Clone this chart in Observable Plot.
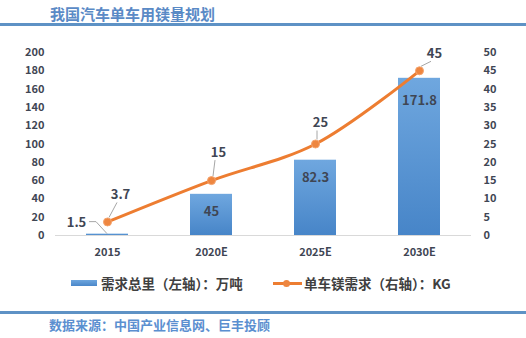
<!DOCTYPE html>
<html>
<head>
<meta charset="utf-8">
<script src="https://cdn.jsdelivr.net/npm/d3@7"></script>
<script src="https://cdn.jsdelivr.net/npm/@observablehq/plot@0.6"></script>
<style>
  html, body { margin: 0; padding: 0; background: #fff; }
  #wrap { position: relative; width: 526px; height: 338px; overflow: hidden; background: #fff;
          font-family: "Noto Sans CJK SC", "Noto Sans", sans-serif; }
  .abs { position: absolute; white-space: nowrap; }
  #title { left: 50px; top: 4px; font-size: 15px; font-weight: bold; color: #5a8ac6; line-height: 20px; }
  .rule { left: 0; width: 526px; height: 3px; background: #5e92c5; }
  #chart { left: 0; top: 30px; }
  .legtext { font-size: 13.5px; font-weight: bold; color: #404040; line-height: 18px; }
  #source { left: 49px; top: 316px; font-size: 13px; font-weight: bold; color: #5b8fd0; line-height: 18px; }
</style>
</head>
<body>
<div id="wrap">
  <div id="title" class="abs">我国汽车单车用镁量规划</div>
  <div class="abs rule" style="top:23px"></div>
  <div id="chart" class="abs"></div>
  <div class="abs" style="left:71px;top:280px;width:26px;height:6px;background:linear-gradient(#6ea6de,#4a87c9);"></div>
  <div class="abs legtext" style="left:101px;top:274px;">需求总里（左轴）：万吨</div>
  <div class="abs" style="left:273px;top:282px;width:29px;height:3px;background:#ed7d31;"></div>
  <div class="abs" style="left:283px;top:280px;width:7px;height:7px;border-radius:50%;background:#ee8640;"></div>
  <div class="abs legtext" style="left:304px;top:274px;">单车镁需求（右轴）：KG</div>
  <div class="abs rule" style="top:311px"></div>
  <div id="source" class="abs">数据来源：中国产业信息网、巨丰投顾</div>
</div>
<script>
// ---- data ----
const categories = ["2015", "2020E", "2025E", "2030E"];
const demandTotal = [1.5, 45, 82.3, 171.8];      // 需求总里（左轴）：万吨
const perCarDemand = [3.7, 15, 25, 45];         // 单车镁需求（右轴）：KG
const leftTicks = [0, 20, 40, 60, 80, 100, 120, 140, 160, 180, 200];
const rightTicks = [0, 5, 10, 15, 20, 25, 30, 35, 40, 45, 50];

// ---- styling config (label offsets in px) ----
const barLabelOffset = [{dx: -31, dy: -11}, {dx: 0, dy: 18}, {dx: 0, dy: 18}, {dx: 0, dy: 23}];
const lineLabelOffset = [{dx: 13, dy: -27}, {dx: 7, dy: -28}, {dx: 5, dy: -21}, {dx: 15, dy: -17}];

const ratio = 200 / 50; // right axis -> left axis
const rows = categories.map((c, i) => ({cat: c, total: demandTotal[i], per: perCarDemand[i], perScaled: perCarDemand[i] * ratio, i}));

const textColor = "#3f4654";
const font = "\"Noto Sans CJK SC\", sans-serif";

const barLabels = rows.map((d, i) => Plot.text([d], {
  x: "cat", y: "total", text: d => String(d.total),
  dx: barLabelOffset[i].dx, dy: barLabelOffset[i].dy,
  fill: textColor, fontSize: 13, fontWeight: "bold"
}));
const lineLabels = rows.map((d, i) => Plot.text([d], {
  x: "cat", y: "perScaled", text: d => String(d.per),
  dx: lineLabelOffset[i].dx, dy: lineLabelOffset[i].dy,
  fill: textColor, fontSize: 13, fontWeight: "bold"
}));

const chart = Plot.plot({
  width: 526,
  height: 240,
  marginTop: 22,
  marginBottom: 35,
  marginLeft: 55,
  marginRight: 55,
  style: {fontFamily: font, background: "transparent", overflow: "visible"},
  x: {domain: categories, paddingInner: 0.6, paddingOuter: 0.3, label: null},
  y: {domain: [0, 200], label: null},
  marks: [
    Plot.axisY(leftTicks, {anchor: "left", tickSize: 0, tickPadding: 11, fontSize: 11, fontWeight: "bold", fill: textColor, label: null}),
    Plot.axisY(rightTicks.map(v => v * ratio), {anchor: "right", tickSize: 0, tickPadding: 12, tickFormat: v => String(v / ratio), fontSize: 11, fontWeight: "bold", fill: textColor, label: null}),
    Plot.axisX({tickSize: 0, tickPadding: 13, fontSize: 11, fontWeight: "bold", fill: textColor, label: null}),
    Plot.barY(rows, {x: "cat", y: "total", fill: "url(#barGrad)"}),
    Plot.ruleY([0], {stroke: "#d9d9d9", strokeWidth: 1}),
    Plot.line(rows, {x: "cat", y: "perScaled", stroke: "#ed7d31", strokeWidth: 3, curve: "catmull-rom"}),
    Plot.dot(rows, {x: "cat", y: "perScaled", r: 4, fill: "#ee8640", stroke: "#f4a36d", strokeWidth: 1}),
    ...barLabels,
    ...lineLabels
  ]
});

// gradient for bars
const svg = d3.select(chart);
const defs = svg.insert("defs", ":first-child");
const grad = defs.append("linearGradient").attr("id", "barGrad").attr("x1", 0).attr("y1", 0).attr("x2", 0).attr("y2", 1);
grad.append("stop").attr("offset", "0%").attr("stop-color", "#6fa7df");
grad.append("stop").attr("offset", "100%").attr("stop-color", "#4785c8");

// leader lines using the plot's own scales
const sx = chart.scale("x"), sy = chart.scale("y");
const cx = c => sx.apply(c) + sx.bandwidth / 2;
const leaders = svg.append("g").attr("fill", "none").attr("stroke", "#a6a6a6").attr("stroke-width", 1);
rows.forEach((d, i) => {
  const px = cx(d.cat), py = sy.apply(d.perScaled);
  const o = lineLabelOffset[i];
  leaders.append("line")
    .attr("x1", px + 2).attr("y1", py - 4)
    .attr("x2", px + o.dx - 3).attr("y2", py + o.dy + 8);
});
{
  const d = rows[0], o = barLabelOffset[0];
  const px = cx(d.cat), py = sy.apply(d.total);
  leaders.append("polyline").attr("points", [
    [px + o.dx + 13, py + o.dy - 1], [px + o.dx + 20, py + o.dy - 1], [px, py]
  ].map(p => p.join(",")).join(" "));
}

document.getElementById("chart").appendChild(chart);
</script>
</body>
</html>
